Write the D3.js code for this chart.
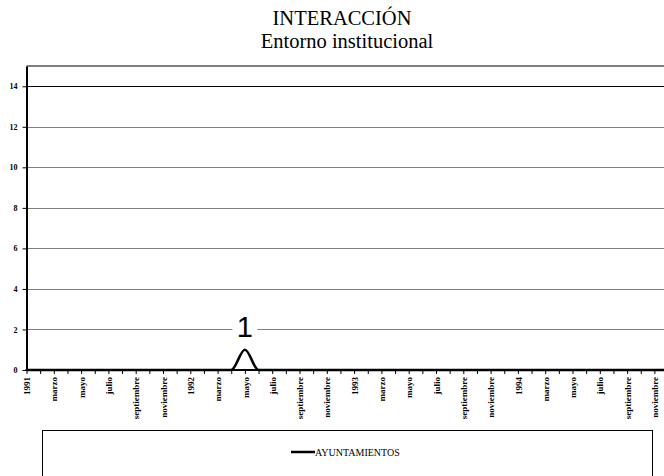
<!DOCTYPE html>
<html>
<head>
<meta charset="utf-8">
<script src="https://cdn.jsdelivr.net/npm/d3@7"></script>
<style>
  body { margin: 0; background: #fff; }
</style>
</head>
<body>
<div class="canvas"></div>
<script>
// data
const years = [1991, 1992, 1993, 1994];
const months = ['enero', 'febrero', 'marzo', 'abril', 'mayo', 'junio', 'julio',
  'agosto', 'septiembre', 'octubre', 'noviembre', 'diciembre'];
const yTicks = [0, 2, 4, 6, 8, 10, 12, 14];
const seriesName = 'AYUNTAMIENTOS';
const ayuntamientos = [
  0, 0, 0, 0, 0, 0, 0, 0, 0, 0, 0, 0,
  0, 0, 0, 0, 1, 0, 0, 0, 0, 0, 0, 0,
  0, 0, 0, 0, 0, 0, 0, 0, 0, 0, 0, 0,
  0, 0, 0, 0, 0, 0, 0, 0, 0, 0, 0, 0
];

// categories: january shows the year, other months their name
const categories = [];
years.forEach(yr => months.forEach((m, i) => categories.push(i === 0 ? String(yr) : m + ' ' + yr)));
const label = c => c.split(' ')[0];

const serif = "'Times New Roman', 'Liberation Serif', Times, serif";
const sans = "'Liberation Sans', Arial, Roboto, sans-serif";

const width = 664;
const height = 476;
const plot = { left: 26.5, top: 66, bottom: 370, step: 13.65 };

const svg = d3.select('.canvas')
  .append('svg')
  .attr('width', width)
  .attr('height', height);

svg.append('rect').attr('width', width).attr('height', height).attr('fill', '#fff');

// scales
const x = d3.scalePoint()
  .domain(categories)
  .range([plot.left, plot.left + (categories.length - 1) * plot.step]);
const y = d3.scaleLinear().domain([0, 15]).range([plot.bottom, plot.top]);

// title
svg.append('text')
  .attr('x', 342).attr('y', 25)
  .attr('text-anchor', 'middle')
  .style('font-family', serif)
  .style('font-size', '20.5px')
  .text('INTERACCIÓN');
svg.append('text')
  .attr('x', 347).attr('y', 47.5)
  .attr('text-anchor', 'middle')
  .style('font-family', serif)
  .style('font-size', '20.5px')
  .text('Entorno institucional');

// gridlines + top border
const grid = svg.append('g');
grid.selectAll('line')
  .data(yTicks.filter(d => d > 0))
  .enter()
  .append('line')
  .attr('x1', plot.left).attr('x2', width)
  .attr('y1', d => Math.round(y(d)) + 0.5).attr('y2', d => Math.round(y(d)) + 0.5)
  .attr('stroke', d => d === 14 ? '#000' : '#808080')
  .attr('stroke-width', 1);
grid.append('line')
  .attr('x1', plot.left).attr('x2', width)
  .attr('y1', plot.top).attr('y2', plot.top)
  .attr('stroke', '#808080').attr('stroke-width', 2);

// y axis
const yAxis = d3.axisLeft(y).tickValues(yTicks).tickSize(4).tickSizeOuter(0).tickPadding(5);
const yAxisGroup = svg.append('g').attr('transform', `translate(${plot.left}, 0)`).call(yAxis);
yAxisGroup.select('.domain').attr('stroke-width', 2);
yAxisGroup.selectAll('text')
  .style('font-family', serif)
  .style('font-size', '8px')
  .style('font-weight', 'bold')
  .attr('fill', '#000');

// x axis
const xAxis = d3.axisBottom(x)
  .tickSize(4)
  .tickSizeOuter(0)
  .tickFormat((d, i) => i % 2 === 0 ? label(d) : '');
const xAxisGroup = svg.append('g').attr('transform', `translate(0, ${plot.bottom})`).call(xAxis);
xAxisGroup.select('.domain').attr('stroke-width', 2).attr('d', `M${plot.left - 1},0H${width}`);
xAxisGroup.selectAll('text')
  .style('font-family', serif)
  .style('font-size', '9px')
  .style('font-weight', 'bold')
  .attr('fill', '#000')
  .attr('transform', 'rotate(-90)')
  .attr('text-anchor', 'end')
  .attr('x', -7)
  .attr('y', 0)
  .attr('dy', '0.35em');

// series line
const line = d3.line()
  .x((d, i) => x(categories[i]))
  .y(d => y(d))
  .curve(d3.curveMonotoneX);

svg.append('path')
  .datum(ayuntamientos)
  .attr('fill', 'none')
  .attr('stroke', '#000')
  .attr('stroke-width', 2.5)
  .attr('d', line);

// data labels for non-zero points
const labels = svg.append('g');
ayuntamientos.forEach((v, i) => {
  if (v === 0) return;
  const cx = x(categories[i]);
  labels.append('rect')
    .attr('x', cx - 12.5).attr('y', y(v) - 37)
    .attr('width', 25).attr('height', 26)
    .attr('fill', '#fff');
  labels.append('text')
    .attr('x', cx).attr('y', y(v) - 12.5)
    .attr('text-anchor', 'middle')
    .style('font-family', sans)
    .style('font-size', '29px')
    .text(v);
});

// legend
const legend = svg.append('g');
legend.append('rect')
  .attr('x', 42.5).attr('y', 430.5)
  .attr('width', 610).attr('height', 60)
  .attr('fill', '#fff')
  .attr('stroke', '#000').attr('stroke-width', 1);
legend.append('line')
  .attr('x1', 291).attr('x2', 315)
  .attr('y1', 452).attr('y2', 452)
  .attr('stroke', '#000').attr('stroke-width', 2.5);
legend.append('text')
  .attr('x', 315).attr('y', 455.5)
  .style('font-family', serif)
  .style('font-size', '10px')
  .text(seriesName);
</script>
</body>
</html>
